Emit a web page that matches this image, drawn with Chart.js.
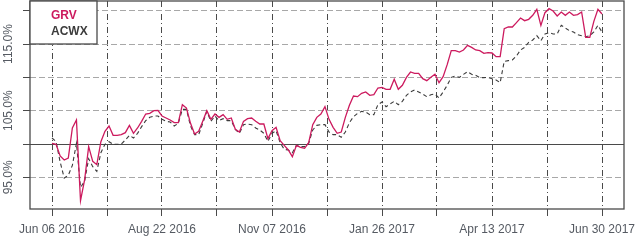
<!DOCTYPE html>
<html>
<head>
<meta charset="utf-8">
<script src="https://cdn.jsdelivr.net/npm/chart.js@4"></script>
<style>
html,body{margin:0;padding:0;background:#fff;}
#wrap{width:640px;height:240px;}
</style>
</head>
<body>
<div id="wrap"><canvas id="c" width="640" height="240"></canvas></div>
<script>
// ---- data ----
const seriesNames = ["GRV", "ACWX"];
const seriesColors = ["#CC1A5E", "#3C3C3C"];
const daysPerSample = 2; // trading-day spacing of the samples
const grv = [
  100.1, 99.95, 98.2, 97.6, 97.9, 102.4, 103.6, 91.5, 94.6, 99.6,
  97.4, 96.9, 100.35, 101.9, 102.7, 101.3, 101.3, 101.4, 101.7, 102.8,
  101.6, 102.4, 103.4, 104.5, 104.6, 105, 105.05, 104.2, 103.9, 103.6,
  103.2, 103.2, 105.9, 105.4, 103.1, 101.5, 101.9, 103.4, 105, 103.7,
  104.5, 104, 104.4, 103.7, 103.9, 102.2, 101.8, 103.4, 103.8, 103.9,
  103.4, 103, 103, 100.8, 102.0, 102.5, 100.5, 99.8, 99.1, 98.1,
  99.8, 99.5, 99.35, 100.2, 102.9, 104, 104.5, 105.6, 103.7, 102.5,
  101.6, 101.8, 104, 105.8, 107.2, 107.1, 107.6, 107.8, 107.3, 107.4,
  108.4, 108.5, 108.2, 108.2, 109.7, 108.2, 108.8, 110, 110.8, 110.6,
  110.6, 109.8, 109.5, 110, 110.45, 109.2, 110.1, 111.9, 114, 114,
  113.8, 114.1, 114.8, 114.5, 114.1, 114, 113.6, 113.7, 113.65, 113.1,
  113.1, 117.3, 117.55, 117.55, 118.2, 118.9, 118.5, 118.7, 119.3, 120.2,
  117.8, 119.7, 120.3, 119.95, 119.2, 119.8, 119.3, 119.8, 119.3, 119.4,
  119.8, 116, 116, 118.4, 120.2, 119.5
];
const acwx = [
  100.9, 100.35, 97.3, 94.9, 95.3, 96.8, 100.1, 93.5, 94.4, 97.8,
  96.6, 95.9, 98.7, 99.95, 100.35, 99.95, 99.95, 100, 100.6, 101.3,
  100.9, 101.6, 102.6, 103.5, 104, 104.2, 104.2, 103.7, 103.4, 103.3,
  102.7, 103.1, 105.2, 105.2, 102.7, 101.4, 101.4, 103.1, 104.9, 103.4,
  104.2, 103.5, 103.8, 103.5, 103.5, 102.2, 101.6, 102.9, 103, 102.9,
  102.4, 102.1, 101.6, 100.4, 101.6, 102, 100.2, 99.2, 99.1, 98.7,
  99.8, 99.6, 99.6, 100.1, 102.1, 102.8, 102.9, 102.9, 101.8, 101.4,
  101.4, 101.0, 101.8, 103.2, 104.1, 104.6, 104.9, 104.8, 104.4, 104.4,
  105.9, 106.3, 105.6, 106, 106.4, 105.9, 106.4, 107.3, 107.8, 108.1,
  107.8, 107.5, 107.1, 107.4, 107.5, 106.9, 107.8, 108.8, 110, 110.2,
  110, 110.45, 110.85, 110.45, 110.3, 109.95, 109.95, 110, 109.8, 109.6,
  109.2, 112.4, 112.5, 112.6, 113.2, 114.1, 114.5, 115.25, 115.6, 116.25,
  115.5, 116.5, 116.7, 116.5, 116.5, 117.8, 117.4, 117, 116.8, 116.4,
  116.25, 116.1, 116.25, 116.8, 117.8, 116.8
];
const xTickDays = [0, 27, 54, 81, 108, 135, 162, 189, 216, 243, 270];
const xTickLabels = ["Jun 06 2016", "", "Aug 22 2016", "", "Nov 07 2016", "", "Jan 26 2017", "", "Apr 13 2017", "", "Jun 30 2017"];
const yTickValues = [95, 100, 105, 110, 115, 120];
const yTickLabels = ["95.0%", "", "105.0%", "", "115.0%", ""];
const baseline = 100;

// ---- build ----
const toPoints = arr => arr.map((v, i) => ({ x: i * daysPerSample, y: v }));
const lastDay = xTickDays[xTickDays.length - 1];
const xPad = lastDay * 0.04;

const FRAME = "#4A4A4A";
const GRIDLIGHT = "#A8A8A8";
const TEXT = "#555A62";
Chart.defaults.font.family = "'Liberation Sans', Arial, sans-serif";
Chart.defaults.font.size = 12;

const framePlugin = {
  id: "frame",
  afterDatasetsDraw(chart) {
    const { ctx, chartArea: a } = chart;
    ctx.save();
    ctx.strokeStyle = FRAME;
    ctx.lineWidth = 1.3;
    ctx.setLineDash([]);
    ctx.strokeRect(a.left, a.top, a.right - a.left, a.bottom - a.top);
    // legend box
    const w = 67, h = 43;
    ctx.fillStyle = "#fff";
    ctx.fillRect(a.left, a.top, w, h);
    ctx.strokeRect(a.left, a.top, w, h);
    ctx.font = "bold 12px 'Liberation Sans', Arial, sans-serif";
    ctx.textBaseline = "middle";
    ctx.textAlign = "left";
    chart.data.datasets.forEach((ds, i) => {
      ctx.fillStyle = ds.borderColor;
      ctx.fillText(ds.label, a.left + 21, a.top + 15 + i * 16);
    });
    ctx.restore();
  }
};

new Chart(document.getElementById("c"), {
  type: "line",
  data: {
    datasets: [
      { label: seriesNames[0], data: toPoints(grv), borderColor: seriesColors[0], borderWidth: 1.3, pointRadius: 0, tension: 0, fill: false },
      { label: seriesNames[1], data: toPoints(acwx), borderColor: seriesColors[1], borderWidth: 1.1, borderDash: [4, 3], pointRadius: 0, tension: 0, fill: false }
    ]
  },
  options: {
    responsive: false,
    animation: false,
    events: [],
    layout: { padding: { left: 0, right: 16, top: 1, bottom: 0 } },
    plugins: { legend: { display: false }, tooltip: { enabled: false } },
    scales: {
      x: {
        type: "linear",
        min: -xPad,
        max: lastDay + xPad,
        afterBuildTicks: s => { s.ticks = xTickDays.map(v => ({ value: v })); },
        afterFit: s => { s.height = 31; s.paddingLeft = 0; s.paddingRight = 0; },
        ticks: {
          autoSkip: false, maxRotation: 0, minRotation: 0, padding: 6, color: TEXT,
          callback: (v) => { const i = xTickDays.indexOf(v); return i >= 0 ? xTickLabels[i] : ""; }
        },
        grid: { color: FRAME, lineWidth: 1, drawTicks: true, tickLength: 7, tickColor: FRAME, tickWidth: 1, tickBorderDash: [] },
        border: { display: false, dash: [6, 3, 1, 3] }
      },
      y: {
        type: "linear",
        min: 90.25,
        max: 121.45,
        afterBuildTicks: s => { s.ticks = yTickValues.map(v => ({ value: v })); },
        afterFit: s => { s.width = 30; s.paddingTop = 0; s.paddingBottom = 0; },
        ticks: {
          autoSkip: false, minRotation: 90, maxRotation: 90, crossAlign: "center", padding: -6, color: TEXT,
          callback: (v) => { const i = yTickValues.indexOf(v); return i >= 0 ? yTickLabels[i] : ""; }
        },
        grid: {
          color: ctx => (ctx.tick && ctx.tick.value === baseline ? FRAME : GRIDLIGHT),
          lineWidth: 1, drawTicks: true, tickLength: 7, tickColor: FRAME, tickWidth: 1, tickBorderDash: []
        },
        border: { display: false, dash: ctx => (ctx.tick && ctx.tick.value === baseline ? [] : [6, 3]) }
      }
    }
  },
  plugins: [framePlugin]
});
</script>
</body>
</html>
